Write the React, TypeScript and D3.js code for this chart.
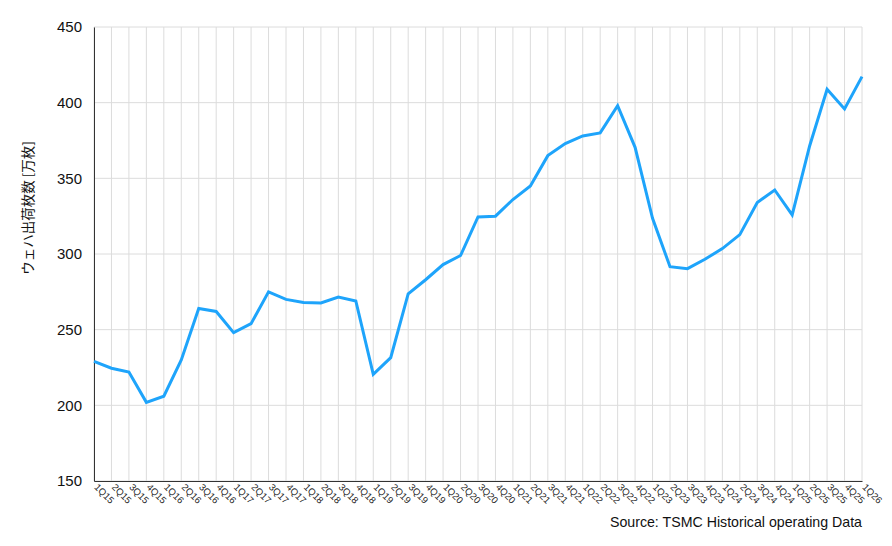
import { useEffect, useRef } from "react";
import * as d3 from "d3";

const quarters: string[] = [];
for (let yr = 15; yr <= 25; yr++) {
  for (let q = 1; q <= 4; q++) quarters.push(`${q}Q${yr}`);
}
quarters.push("1Q26");

const wafers: number[] = [
  229, 224.5, 222, 202, 206, 230, 264, 262, 248, 254, 275,
  270, 268, 267.6, 271.6, 269, 220.5, 231.5, 273.6, 283, 293, 299,
  324.5, 325, 336, 345, 365, 373, 378, 380, 398, 370.5,
  323.6, 291.6, 290.3, 296.5, 303.6, 312.8, 334, 342.3,
  325.8, 371.4, 408.9, 395.9, 417.2,
];

const yTicks = [150, 200, 250, 300, 350, 400, 450];

const W = 892;
const H = 546;

export default function App() {
  const svgRef = useRef<SVGSVGElement>(null);

  useEffect(() => {
    if (!svgRef.current) return;
    d3.select(svgRef.current).selectAll("*").remove();

    const margin = { top: 27, right: 30, bottom: 65, left: 94 };
    const width = W - margin.left - margin.right;
    const height = H - margin.top - margin.bottom;
    const font = "'Liberation Sans', Arial, 'Noto Sans CJK JP', sans-serif";

    const svg = d3
      .select(svgRef.current)
      .attr("width", W)
      .attr("height", H)
      .style("font-family", font)
      .append("g")
      .attr("transform", `translate(${margin.left},${margin.top})`);

    const x = d3.scalePoint().domain(quarters).range([0, width]);
    const y = d3.scaleLinear().domain([150, 450]).range([height, 0]);

    // grid
    svg
      .append("g")
      .selectAll("line")
      .data(quarters)
      .join("line")
      .attr("x1", (d) => x(d)!)
      .attr("x2", (d) => x(d)!)
      .attr("y1", 0)
      .attr("y2", height)
      .attr("stroke", "#dcdcdc")
      .attr("stroke-width", 1);

    svg
      .append("g")
      .selectAll("line")
      .data(yTicks)
      .join("line")
      .attr("x1", 0)
      .attr("x2", width)
      .attr("y1", (d) => y(d))
      .attr("y2", (d) => y(d))
      .attr("stroke", "#dcdcdc")
      .attr("stroke-width", 1);

    // axes
    const yAxis = svg
      .append("g")
      .call(d3.axisLeft(y).tickValues(yTicks).tickSize(0).tickPadding(12));
    yAxis.select(".domain").attr("stroke", "#333");
    yAxis
      .selectAll("text")
      .style("font-size", "15px")
      .style("font-family", font)
      .attr("fill", "#111");

    const xAxis = svg
      .append("g")
      .attr("transform", `translate(0,${height})`)
      .call(d3.axisBottom(x).tickSize(0).tickPadding(0));
    xAxis.select(".domain").attr("stroke", "#333");
    xAxis
      .selectAll("text")
      .style("font-size", "9.5px")
      .style("font-family", font)
      .attr("fill", "#222")
      .attr("text-anchor", "start")
      .attr("dy", null)
      .attr("y", 0)
      .attr("transform", "translate(1,5) rotate(45)")
      .attr("dominant-baseline", "middle");

    // line
    const line = d3
      .line<number>()
      .x((_, i) => x(quarters[i])!)
      .y((d) => y(d));

    svg
      .append("path")
      .datum(wafers)
      .attr("fill", "none")
      .attr("stroke", "#1ea4fb")
      .attr("stroke-width", 3)
      .attr("stroke-linejoin", "miter")
      .attr("d", line);

    // y title
    svg
      .append("text")
      .attr("transform", `translate(${-61},${181}) rotate(-90)`)
      .attr("text-anchor", "middle")
      .style("font-size", "13.5px")
      .style("font-family", "'Noto Sans CJK JP', sans-serif")
      .attr("fill", "#111")
      .text("ウェハ出荷枚数 [万枚]");

    // source
    svg
      .append("text")
      .attr("x", width)
      .attr("y", height + 46)
      .attr("text-anchor", "end")
      .style("font-size", "14.2px")
      .attr("fill", "#111")
      .text("Source: TSMC Historical operating Data");
  }, []);

  return (
    <svg
      ref={svgRef}
      style={{ position: "absolute", left: 0, top: 0, display: "block" }}
    ></svg>
  );
}
